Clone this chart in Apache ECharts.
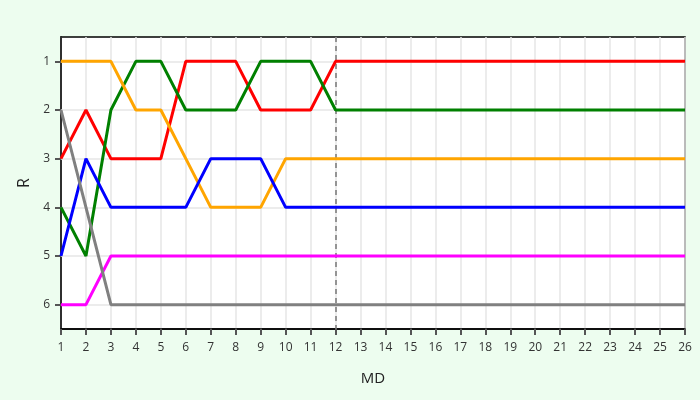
<!DOCTYPE html>
<html>
<head>
<meta charset="utf-8">
<script src="https://cdn.jsdelivr.net/npm/echarts@6/dist/echarts.min.js"></script>
<style>
html,body{margin:0;padding:0;background:#edfdef;}
#c{width:700px;height:400px;}
</style>
</head>
<body>
<div id="c"></div>
<script>
const md = [1,2,3,4,5,6,7,8,9,10,11,12,13,14,15,16,17,18,19,20,21,22,23,24,25,26];
const rankTicks = [1,2,3,4,5,6];
const seriesNames = ['A','B','C','D','E','F'];
const seriesColors = ['#ff0000','#008000','#ffa500','#0000ff','#ff00ff','#808080'];
const red     = [3,2,3,3,3,1,1,1,2,2,2,1,1,1,1,1,1,1,1,1,1,1,1,1,1,1];
const green   = [4,5,2,1,1,2,2,2,1,1,1,2,2,2,2,2,2,2,2,2,2,2,2,2,2,2];
const orange  = [1,1,1,2,2,3,4,4,4,3,3,3,3,3,3,3,3,3,3,3,3,3,3,3,3,3];
const blue    = [5,3,4,4,4,4,3,3,3,4,4,4,4,4,4,4,4,4,4,4,4,4,4,4,4,4];
const magenta = [6,6,5,5,5,5,5,5,5,5,5,5,5,5,5,5,5,5,5,5,5,5,5,5,5,5];
const grey    = [2,4,6,6,6,6,6,6,6,6,6,6,6,6,6,6,6,6,6,6,6,6,6,6,6,6];
const markerX = 12;

const allSeries = [red, green, orange, blue, magenta, grey];
const font = 'Open Sans';

const chart = echarts.init(document.getElementById('c'), null, {renderer:'canvas'});
const series = [
  {
    type:'line', data:[], silent:true, z:1,
    markLine:{
      silent:true, symbol:'none', animation:false, z:1,
      label:{show:false},
      lineStyle:{color:'#e6e6e6', width:1.5, type:'solid'},
      data: rankTicks.map(v=>({yAxis:v}))
    }
  },
  {
    type:'line', data:[], silent:true, z:1,
    markLine:{
      silent:true, symbol:'none', animation:false, z:1,
      label:{show:false},
      lineStyle:{color:'#777', width:1.5, type:[5,4]},
      data:[{xAxis:markerX}]
    }
  }
];
allSeries.forEach((s,i)=>{
  series.push({
    name: seriesNames[i],
    type:'line',
    data: md.map((x,j)=>[x, s[j]]),
    showSymbol:false,
    symbol:'none',
    lineStyle:{color:seriesColors[i], width:3},
    itemStyle:{color:seriesColors[i]},
    z:3+i,
    animation:false
  });
});

chart.setOption({
  backgroundColor:'#edfdef',
  animation:false,
  grid:{left:61, right:15, top:37, bottom:71, show:true, backgroundColor:'#ffffff', borderColor:'#000', borderWidth:1.5},
  xAxis:{
    type:'value', min:1, max:26, interval:1,
    name:'MD', nameLocation:'middle', nameGap:42,
    nameTextStyle:{fontFamily:font, fontSize:15, color:'#222'},
    axisLine:{show:true, onZero:false, lineStyle:{color:'#000', width:1.5}},
    axisTick:{show:true, inside:false, length:6, lineStyle:{color:'#555', width:2}},
    axisLabel:{fontFamily:font, fontSize:12, color:'#333', margin:13},
    splitLine:{show:true, lineStyle:{color:'#e6e6e6', width:1.5}}
  },
  yAxis:{
    type:'value', min:0.5, max:6.5, inverse:true,
    name:'R', nameLocation:'middle', nameGap:29,
    nameTextStyle:{fontFamily:font, fontSize:16, color:'#222'},
    axisLine:{show:true, onZero:false, lineStyle:{color:'#000', width:1.5}},
    axisTick:{show:true, inside:false, length:6, customValues:rankTicks, lineStyle:{color:'#555', width:2}},
    axisLabel:{fontFamily:font, fontSize:12, color:'#333', margin:11, customValues:rankTicks},
    splitLine:{show:false}
  },
  series: series
});
</script>
</body>
</html>
